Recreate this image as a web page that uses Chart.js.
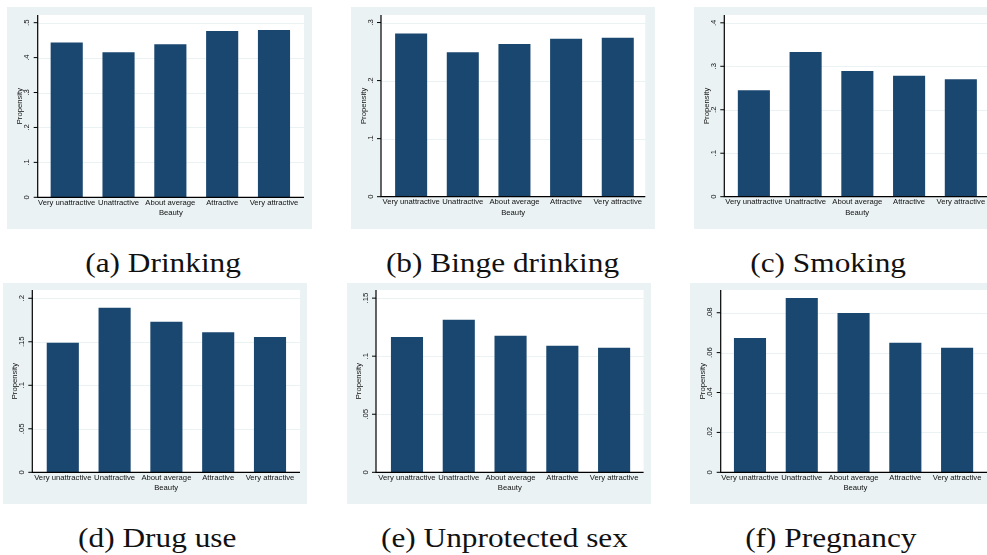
<!DOCTYPE html>
<html>
<head>
<meta charset="utf-8">
<script src="https://cdn.jsdelivr.net/npm/chart.js@4.4.1/dist/chart.umd.min.js"></script>
<style>
  html, body { margin: 0; padding: 0; background: #ffffff; }
  #wrap { position: relative; width: 987px; height: 555px; overflow: hidden; background: #fff; }
  canvas { position: absolute; }
  .cap { position: absolute; width: 320px; text-align: center; font-family: "Liberation Serif", serif;
         font-size: 27px; line-height: 27px; color: #111; white-space: nowrap; }
  .cap span { display: inline-block; transform: scaleX(1.16); transform-origin: center; }
</style>
</head>
<body>
<div id="wrap"></div>
<script>
// ---------------- DATA ----------------
const categories = ["Very unattractive", "Unattractive", "About average", "Attractive", "Very attractive"];

const drinking       = [0.443, 0.415, 0.438, 0.476, 0.479];
const bingeDrinking  = [0.281, 0.249, 0.263, 0.272, 0.274];
const smoking        = [0.245, 0.333, 0.289, 0.278, 0.270];
const drugUse        = [0.149, 0.189, 0.173, 0.161, 0.1555];
const unprotectedSex = [0.1166, 0.1313, 0.1175, 0.1089, 0.1072];
const pregnancy      = [0.0673, 0.0874, 0.0799, 0.0650, 0.0625];

const ticksA = [0, 0.1, 0.2, 0.3, 0.4, 0.5];
const tickLabelsA = ["0", ".1", ".2", ".3", ".4", ".5"];
const ticksB = [0, 0.1, 0.2, 0.3];
const tickLabelsB = ["0", ".1", ".2", ".3"];
const ticksC = [0, 0.1, 0.2, 0.3, 0.4];
const tickLabelsC = ["0", ".1", ".2", ".3", ".4"];
const ticksD = [0, 0.05, 0.1, 0.15, 0.2];
const tickLabelsD = ["0", ".05", ".1", ".15", ".2"];
const ticksE = [0, 0.05, 0.1, 0.15];
const tickLabelsE = ["0", ".05", ".1", ".15"];
const ticksF = [0, 0.02, 0.04, 0.06, 0.08];
const tickLabelsF = ["0", ".02", ".04", ".06", ".08"];

const yMaxes = [0.522, 0.313, 0.418, 0.2095, 0.157, 0.0914];

const captions = ["(a) Drinking", "(b) Binge drinking", "(c) Smoking",
                  "(d) Drug use", "(e) Unprotected sex", "(f) Pregnancy"];
const xTitle = "Beauty";
const yTitle = "Propensity";

// ---------------- LAYOUT (positions / styles) ----------------
const layouts = [
  { bg: [7, 7, 312, 229],        axisX: 37.7,  catLeft: 40.8,  catRight: 299.9, whiteRight: 304,   top: 15,  base: 197.3 },
  { bg: [350.7, 7, 655, 229],    axisX: 380.7, catLeft: 385.0, catRight: 643.3, whiteRight: 645,   top: 15,  base: 196.7 },
  { bg: [694, 7, 987, 229],      axisX: 724.3, catLeft: 728.0, catRight: 986.7, whiteRight: 990,   top: 15,  base: 196.7 },
  { bg: [3, 283, 307, 504],      axisX: 32.3,  catLeft: 36.9,  catRight: 295.9, whiteRight: 300,   top: 290, base: 472.3 },
  { bg: [346.7, 283, 650.7, 504],axisX: 375.7, catLeft: 380.8, catRight: 639.7, whiteRight: 643.3, top: 290, base: 472.3 },
  { bg: [690, 283, 987, 504],    axisX: 720.7, catLeft: 724.1, catRight: 983.0, whiteRight: 990,   top: 290, base: 472.3 }
];
const captionPos = [
  { cx: 163, top: 249.5 }, { cx: 502, top: 249.5 }, { cx: 828, top: 249.5 },
  { cx: 157, top: 524.5 }, { cx: 504, top: 524.5 }, { cx: 831, top: 524.5 }
];

const BAR_COLOR = "#1a476f";
const BG_COLOR = "#eaf2f3";
const GRID_COLOR = "#eaf2f3";
const TEXT_COLOR = "#111111";
const SMALL_FONT = '7.7px "Liberation Sans", Arial, sans-serif';

const panels = [
  { values: drinking,       ticks: ticksA, labels: tickLabelsA },
  { values: bingeDrinking,  ticks: ticksB, labels: tickLabelsB },
  { values: smoking,        ticks: ticksC, labels: tickLabelsC },
  { values: drugUse,        ticks: ticksD, labels: tickLabelsD },
  { values: unprotectedSex, ticks: ticksE, labels: tickLabelsE },
  { values: pregnancy,      ticks: ticksF, labels: tickLabelsF }
];

const stataPlugin = {
  id: "stata",
  beforeDraw(chart, args, opts) {
    const ctx = chart.ctx, L = opts.lay, ox = opts.ox, oy = opts.oy;
    const ys = chart.scales.y;
    ctx.save();
    ctx.fillStyle = BG_COLOR;
    ctx.fillRect(0, 0, chart.width, chart.height);
    const ax = L.axisX - ox, wr = L.whiteRight - ox;
    const top = chart.chartArea.top, base = chart.chartArea.bottom;
    ctx.fillStyle = "#ffffff";
    ctx.fillRect(ax, top, wr - ax, base - top);
    ctx.strokeStyle = GRID_COLOR;
    ctx.lineWidth = 1;
    opts.ticks.forEach(v => {
      if (v === 0) return;
      const y = Math.round(ys.getPixelForValue(v)) + 0.5;
      ctx.beginPath(); ctx.moveTo(ax, y); ctx.lineTo(wr, y); ctx.stroke();
    });
    ctx.restore();
  },
  afterDatasetsDraw(chart, args, opts) {
    const ctx = chart.ctx, L = opts.lay, ox = opts.ox;
    const ys = chart.scales.y, xs = chart.scales.x;
    const ax = L.axisX - ox, wr = L.whiteRight - ox;
    const top = chart.chartArea.top, base = chart.chartArea.bottom;
    ctx.save();
    ctx.strokeStyle = "#000000";
    ctx.lineWidth = 1.2;
    ctx.beginPath(); ctx.moveTo(ax, top); ctx.lineTo(ax, base); ctx.lineTo(wr, base); ctx.stroke();
    // y ticks + labels
    ctx.lineWidth = 1;
    ctx.fillStyle = TEXT_COLOR;
    ctx.font = SMALL_FONT;
    opts.ticks.forEach((v, i) => {
      const y = ys.getPixelForValue(v);
      ctx.beginPath(); ctx.moveTo(ax - 4, y); ctx.lineTo(ax, y); ctx.stroke();
      ctx.save();
      ctx.translate(ax - 10.5, y);
      ctx.rotate(-Math.PI / 2);
      ctx.textAlign = "center"; ctx.textBaseline = "middle";
      ctx.fillText(opts.labels[i], 0, 0);
      ctx.restore();
    });
    // y title
    ctx.save();
    ctx.translate(ax - 17.5, (top + base) / 2);
    ctx.rotate(-Math.PI / 2);
    ctx.textAlign = "center"; ctx.textBaseline = "middle";
    ctx.fillText(yTitle, 0, 0);
    ctx.restore();
    // x category labels
    ctx.textAlign = "center"; ctx.textBaseline = "middle";
    chart.data.labels.forEach((lab, i) => {
      ctx.fillText(lab, xs.getPixelForValue(i), base + 5.6);
    });
    // x title
    ctx.fillText(xTitle, (ax + wr) / 2, base + 16);
    ctx.restore();
  }
};

const wrap = document.getElementById("wrap");
panels.forEach((p, k) => {
  const L = layouts[k];
  const [bx0, by0, bx1, by1] = L.bg;
  const W = Math.round(bx1 - bx0), H = Math.round(by1 - by0);
  const cv = document.createElement("canvas");
  cv.width = W; cv.height = H;
  cv.style.left = bx0 + "px"; cv.style.top = by0 + "px";
  cv.style.width = W + "px"; cv.style.height = H + "px";
  wrap.appendChild(cv);
  new Chart(cv.getContext("2d"), {
    type: "bar",
    data: {
      labels: categories,
      datasets: [{ data: p.values, backgroundColor: BAR_COLOR, borderWidth: 0,
                   barPercentage: 0.62, categoryPercentage: 1.0 }]
    },
    options: {
      responsive: false, animation: false, devicePixelRatio: 1,
      layout: { padding: { left: L.catLeft - bx0, right: W - (L.catRight - bx0),
                           top: L.top - by0, bottom: H - (L.base - by0) } },
      scales: {
        x: { display: false, offset: true },
        y: { display: false, min: 0, max: yMaxes[k] }
      },
      plugins: {
        legend: { display: false }, tooltip: { enabled: false },
        stata: { lay: L, ox: bx0, oy: by0, ticks: p.ticks, labels: p.labels }
      }
    },
    plugins: [stataPlugin]
  });
  const c = document.createElement("div");
  c.className = "cap";
  c.style.left = (captionPos[k].cx - 160) + "px";
  c.style.top = captionPos[k].top + "px";
  c.innerHTML = "<span></span>";
  c.firstChild.textContent = captions[k];
  wrap.appendChild(c);
});
</script>
</body>
</html>
